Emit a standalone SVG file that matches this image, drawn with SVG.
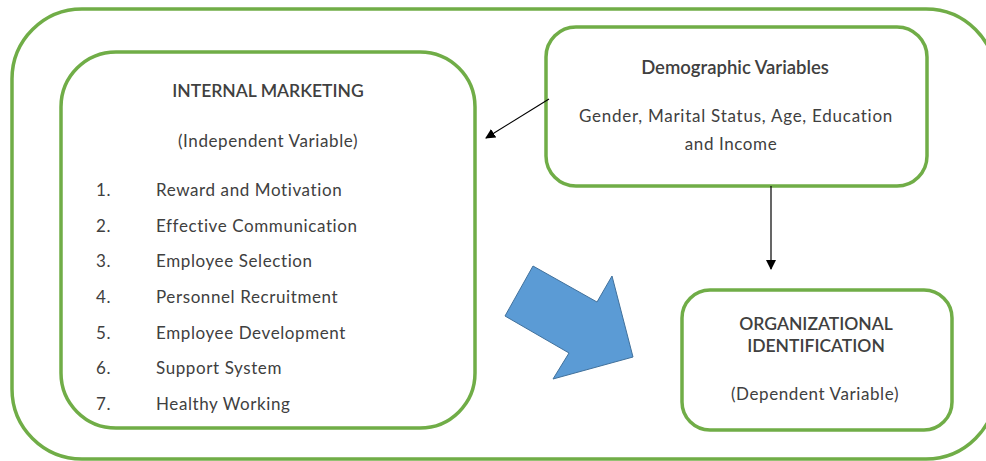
<svg xmlns="http://www.w3.org/2000/svg" width="986" height="461" viewBox="0 0 986 461">
  <defs>
    <marker id="arrowhead" markerWidth="10" markerHeight="10" refX="9" refY="5" orient="auto" markerUnits="userSpaceOnUse">
      <path d="M0,0 L10,5 L0,10 z" fill="#000"/>
    </marker>
  </defs>
  <style>
    .frame { fill: #fff; stroke: #70AD47; stroke-width: 3.5; }
    .txt { font-family: Lato, "Noto Sans", "Liberation Sans", sans-serif; fill: #404040; }
    .title { font-size: 17.5px; font-weight: 600; }
    .title-lg { font-size: 18.5px; }
    .body { font-size: 17px; letter-spacing: 0.6px; }
    .wide { letter-spacing: 0.75px; }
    .mid { text-anchor: middle; }
    .link { stroke: #000; stroke-width: 1.2; fill: none; }
  </style>

  <!-- outer container -->
  <rect class="frame" x="12" y="9" width="984" height="450" rx="70" ry="70"/>

  <g id="internal-marketing">
    <rect class="frame" x="61" y="52" width="414" height="376" rx="55" ry="55"/>
    <text class="txt title mid" x="268" y="97">INTERNAL MARKETING</text>
    <text class="txt body mid" x="268" y="147">(Independent  Variable)</text>
    <g class="txt body">
      <text x="96" y="196">1.</text><text x="156" y="196">Reward and Motivation</text>
      <text x="96" y="232">2.</text><text x="156" y="232">Effective Communication</text>
      <text x="96" y="267">3.</text><text x="156" y="267">Employee Selection</text>
      <text x="96" y="303">4.</text><text x="156" y="303">Personnel Recruitment</text>
      <text x="96" y="339">5.</text><text x="156" y="339">Employee Development</text>
      <text x="96" y="374">6.</text><text x="156" y="374">Support System</text>
      <text x="96" y="410">7.</text><text x="156" y="410">Healthy Working</text>
    </g>
  </g>

  <g id="demographic-variables">
    <rect class="frame" x="546" y="27" width="381" height="159" rx="30" ry="30"/>
    <text class="txt title title-lg mid" x="735" y="74">Demographic Variables</text>
    <text class="txt body wide mid" x="736" y="122">Gender, Marital Status, Age, Education</text>
    <text class="txt body mid" x="731" y="150">and Income</text>
  </g>

  <g id="organizational-identification">
    <rect class="frame" x="682" y="290" width="270" height="140" rx="28" ry="28"/>
    <text class="txt title mid" x="816" y="330">ORGANIZATIONAL</text>
    <text class="txt title mid" x="816" y="352">IDENTIFICATION</text>
    <text class="txt body mid" x="815" y="400">(Dependent  Variable)</text>
  </g>

  <g id="connectors">
    <line class="link" x1="549" y1="99" x2="486" y2="138" marker-end="url(#arrowhead)"/>
    <line class="link" x1="771" y1="186" x2="771" y2="269" marker-end="url(#arrowhead)"/>
    <polygon points="533,266 597,302 612,276 633,357 553,379 569,353 505,316" fill="#5B9BD5" stroke="#41719C" stroke-width="1"/>
  </g>
</svg>
